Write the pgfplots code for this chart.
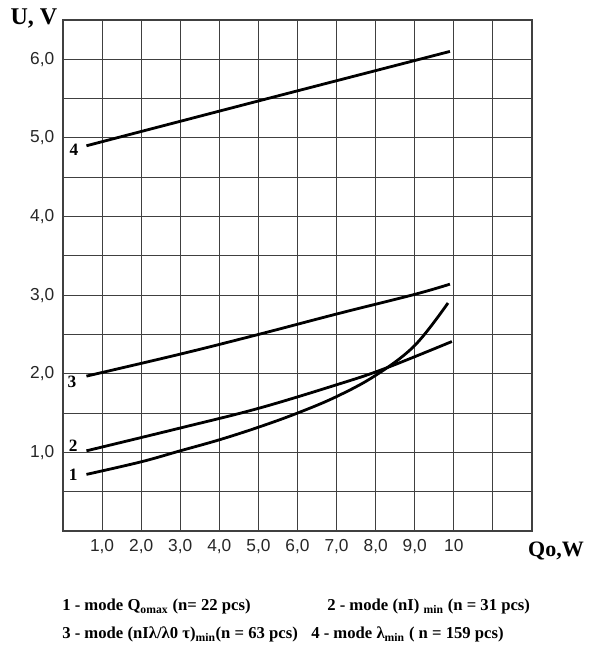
\documentclass[border=0pt]{standalone}
\usepackage{fontspec}
\setmainfont{Liberation Serif}
\newfontfamily\sans{Liberation Sans}
\usepackage{pgfplots}
\pgfplotsset{compat=1.18}

\begin{document}
\begin{tikzpicture}
\useasboundingbox (0,0) rectangle (443.25pt,489pt);
\begin{axis}[
  at={(47.25pt,90.75pt)}, anchor=south west,
  scale only axis, width=351.75pt, height=383.25pt,
  xmin=0, xmax=12, ymin=0, ymax=6.5,
  xtick={1,...,11},
  xticklabels={{1,0},{2,0},{3,0},{4,0},{5,0},{6,0},{7,0},{8,0},{9,0},{10},{}},
  ytick={1,...,6},
  yticklabels={{1,0},{2,0},{3,0},{4,0},{5,0},{6,0}},
  minor ytick={0.5,1.5,...,6},
  grid=both,
  grid style={black!75, line width=0.8pt},
  minor grid style={black!75, line width=0.8pt},
  axis line style={black!75, line width=0.9pt},
  major tick length=0pt, minor tick length=0pt,
  ticklabel style={font=\sans\fontsize{13}{15}\selectfont, text=black!85},
  xticklabel style={yshift=-3pt},
  yticklabel style={xshift=-3pt},
  curve/.style={black, line width=2.1pt, mark=none, smooth, tension=0.6},
  clip=false,
]
% 1 - mode Qomax
\addplot[curve] coordinates {(0.6,0.72) (2,0.88) (3,1.02) (4,1.16) (5,1.32) (6,1.50) (7,1.71) (8,1.98) (9,2.36) (9.85,2.90)};
% 2 - mode (nI)min
\addplot[curve] coordinates {(0.6,1.02) (3,1.31) (5,1.56) (7,1.86) (8.2,2.06) (9.95,2.41)};
% 3 - mode (nI lambda/lambda0 tau)min
\addplot[curve] coordinates {(0.6,1.97) (3,2.25) (5,2.50) (7,2.76) (9,3.01) (9.9,3.14)};
% 4 - mode lambda min
\addplot[curve] coordinates {(0.6,4.90) (5,5.47) (9.9,6.10)};

\node[font=\bfseries\fontsize{13}{15}\selectfont] at (axis cs:0.26,0.72) {1};
\node[font=\bfseries\fontsize{13}{15}\selectfont] at (axis cs:0.26,1.08) {2};
\node[font=\bfseries\fontsize{13}{15}\selectfont] at (axis cs:0.23,1.90) {3};
\node[font=\bfseries\fontsize{13}{15}\selectfont] at (axis cs:0.28,4.85) {4};
\end{axis}

\node[anchor=base, font=\bfseries\fontsize{18}{20}\selectfont, inner sep=0pt] at (25.5pt,470.25pt) {U, V};
\node[anchor=base, font=\bfseries\fontsize{16.5}{18}\selectfont, inner sep=0pt] at (417pt,71.25pt) {Qo,W};

\begin{scope}[every node/.style={anchor=base west, inner sep=0pt, font=\bfseries\fontsize{12.5}{14}\selectfont}]
\node at (46.5pt,30.75pt) {1 - mode Q\textsubscript{omax} (n= 22 pcs)};
\node at (245.25pt,30.75pt) {2 - mode (nI) \textsubscript{min} (n = 31 pcs)};
\node at (46.5pt,9.75pt) {3 - mode (nIλ/λ0 τ)\textsubscript{min}(n = 63 pcs)};
\node at (233.25pt,9.75pt) {4 - mode λ\textsubscript{min} ( n = 159 pcs)};
\end{scope}
\end{tikzpicture}
\end{document}
